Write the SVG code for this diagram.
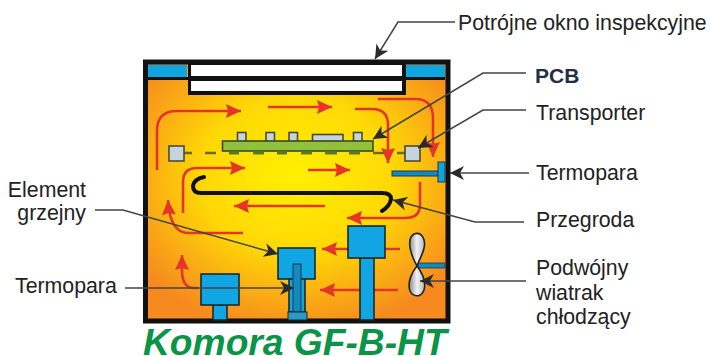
<svg xmlns="http://www.w3.org/2000/svg" width="710" height="356" viewBox="0 0 710 356">
<style>
text{font-family:"Liberation Sans",Arial,sans-serif;font-size:21.300px;fill:#222}
.f{stroke:#e5352a;stroke-width:2.600;fill:none;marker-end:url(#r)}
.l{stroke:#444;stroke-width:1.500;fill:none;marker-end:url(#k)}
.b{fill:#11a5e3;stroke:#1a2a2a;stroke-width:1.600}
.g{fill:#c6d4dc;stroke:#4a4a3a;stroke-width:1.600}
.p{fill:#5a7a22}
</style>
<defs>
<radialGradient id="o" gradientUnits="userSpaceOnUse" cx="297" cy="175" r="175" gradientTransform="translate(297 175) scale(1.1 .9) translate(-297 -175)">
<stop offset="0" stop-color="#fff000"/><stop offset=".5" stop-color="#ffd806"/><stop offset="1" stop-color="#f68a1f"/>
</radialGradient>
<linearGradient id="blade" x1="0" x2="1"><stop offset="0" stop-color="#888"/><stop offset=".5" stop-color="#f2f2f2"/><stop offset="1" stop-color="#bbb"/></linearGradient>
<marker id="r" markerUnits="userSpaceOnUse" markerWidth="18" markerHeight="16" refX="15" refY="7" orient="auto"><path d="M0 0L15 7L0 14L2 7Z" fill="#e5352a"/></marker>
<marker id="k" markerUnits="userSpaceOnUse" markerWidth="16" markerHeight="14" refX="14" refY="7" orient="auto"><path d="M0 0L14 7L0 14L4 7Z" fill="#2a2a2a"/></marker>
</defs>
<g id="chamber">
<rect x="145.500" y="62" width="302.500" height="259" fill="url(#o)" stroke="#111" stroke-width="5"/>
<rect x="148" y="65" width="39" height="12" fill="#0ea5e0"/>
<rect x="406" y="65" width="39" height="12" fill="#0ea5e0"/>
<rect x="148" y="77" width="297" height="3" fill="#111"/>
</g>
<g id="window">
<rect x="188" y="63" width="218" height="32" fill="#111"/>
<rect x="191" y="65" width="211" height="11" fill="#fff"/>
<rect x="191" y="81" width="211" height="10" fill="#fff"/>
</g>
<g id="flow">
<path class="f" d="M157 170V131Q157 111 177 111H241"/>
<path class="f" d="M268 107H332"/>
<path class="f" d="M355 109H372Q388 109 388 125V163"/>
<path class="f" d="M378 99H415Q433 99 433 118V157"/>
<path class="f" d="M183 213V182Q183 168 197 168H245"/>
<path class="f" d="M308 170H350"/>
<path class="f" d="M420 182V205Q420 218 405 218H347"/>
<path class="f" d="M325 206H234"/>
<path class="f" d="M243 233H188Q170 233 168 200"/>
<path class="f" d="M198 288H194Q182 288 182 270V255"/>
<path class="f" d="M400 249H322"/>
<path class="f" d="M398 290H320"/>
</g>
<g id="conveyor">
<path d="M184 153H192M205 153H216M373 153H384M397 153H405" stroke="#6b6a20" stroke-width="2.400" fill="none"/>
<rect x="169" y="146" width="15" height="15" class="g"/>
<rect x="405" y="146" width="15" height="15" class="g"/>
</g>
<g id="pcb">
<rect x="237.500" y="132.500" width="8.500" height="9" class="g"/>
<rect x="266" y="132.500" width="8.500" height="9" class="g"/>
<rect x="289" y="132.500" width="8.500" height="9" class="g"/>
<rect x="312.500" y="134.500" width="30.500" height="7" class="g"/>
<rect x="353.500" y="132.500" width="8.500" height="9" class="g"/>
<rect x="222.500" y="141" width="150.500" height="10" fill="#8fc13e" stroke="#3a4a20" stroke-width="1.600"/>
<rect x="229" y="151.500" width="10" height="3" class="p"/>
<rect x="253" y="151.500" width="11" height="3" class="p"/>
<rect x="277" y="151.500" width="10" height="3" class="p"/>
<rect x="301" y="151.500" width="11" height="3" class="p"/>
<rect x="325" y="151.500" width="12" height="3" class="p"/>
<rect x="349" y="151.500" width="11" height="3" class="p"/>
</g>
<g id="thermocouple-right">
<rect x="392" y="171" width="46" height="5" fill="#1489bd" stroke="#1a3a4a"/>
<rect x="438" y="162" width="7" height="20" fill="#0ea5e0" stroke="#1a3a4a"/>
</g>
<path id="partition" d="M204 177Q194 179 193 186Q193 193 201 193H382Q391 193 391 199Q390 206 382 211" fill="none" stroke="#111" stroke-width="4" stroke-linecap="round"/>
<g id="heater">
<rect x="278" y="248" width="37" height="31" class="b"/>
<rect x="289" y="279" width="16" height="33" class="b"/>
<rect x="293" y="264" width="8" height="48" fill="#1489bd" stroke="#1a3a4a"/>
<rect x="288" y="312" width="19" height="8" fill="#2a9ac8" stroke="#1a2a2a"/>
</g>
<g id="blower-mid">
<rect x="360" y="258" width="14" height="62" class="b"/>
<rect x="348" y="226" width="37" height="32" class="b"/>
</g>
<g id="blower-left">
<rect x="213" y="305" width="14" height="15" class="b"/>
<rect x="201" y="274" width="38" height="31" class="b"/>
</g>
<g id="fan">
<rect x="418" y="263" width="27" height="5" fill="#1489bd" stroke="#1a3a4a" stroke-width=".8"/>
<path d="M417 266C409 252 407 238 414 234C422 231 426 240 424 248C423 254 419 260 417 266C423 274 426 283 424 290C421 298 413 297 410 291C407 282 412 272 417 266Z" fill="url(#blade)" stroke="#222" stroke-width="1.600"/>
</g>
<g id="connectors">
<path class="l" d="M455 22H398L375 59"/>
<path class="l" d="M526 73H483L373 139"/>
<path class="l" d="M526 110H483L418 148"/>
<path class="l" d="M529 173H450"/>
<path class="l" d="M524 222H475L393 200"/>
<path class="l" d="M95 210H123L278 254"/>
<path class="l" d="M125 288H294"/>
<path class="l" d="M526 281H420"/>
</g>
<g id="labels">
<text x="458" y="30">Potrójne okno inspekcyjne</text>
<text x="535" y="83" style="font-size:21px;font-weight:bold;fill:#1f2f44">PCB</text>
<text x="536" y="120">Transporter</text>
<text x="536" y="180">Termopara</text>
<text x="536" y="227">Przegroda</text>
<text x="536" y="275">Podwójny</text>
<text x="536" y="300">wiatrak</text>
<text x="536" y="324">chłodzący</text>
<text x="86" y="197" text-anchor="end">Element</text>
<text x="86" y="220" text-anchor="end">grzejny</text>
<text x="15" y="293">Termopara</text>
<text x="143" y="355" style="font-size:37.200px;font-weight:bold;font-style:italic;fill:#0a9447">Komora GF-B-HT</text>
</g>
</svg>
